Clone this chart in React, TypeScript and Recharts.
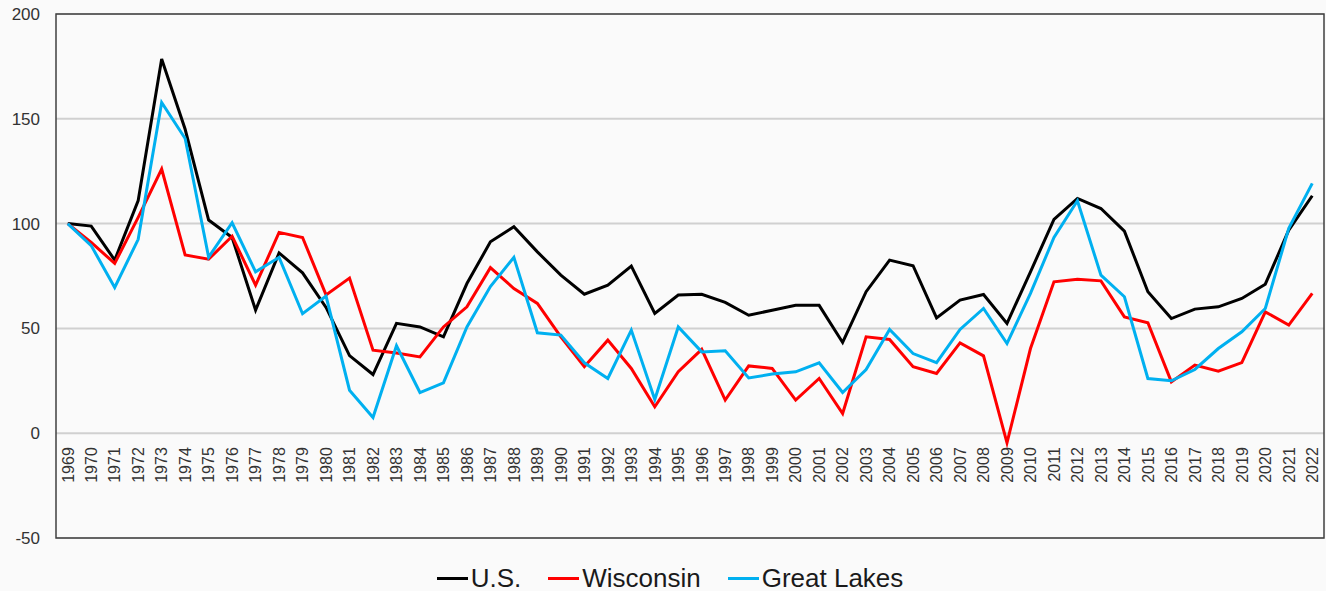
import React from "react";
import {
  LineChart,
  Line,
  XAxis,
  YAxis,
  CartesianGrid,
  ReferenceArea,
  Legend,
} from "recharts";

const years = [
  "1969","1970","1971","1972","1973","1974","1975","1976","1977","1978",
  "1979","1980","1981","1982","1983","1984","1985","1986","1987","1988",
  "1989","1990","1991","1992","1993","1994","1995","1996","1997","1998",
  "1999","2000","2001","2002","2003","2004","2005","2006","2007","2008",
  "2009","2010","2011","2012","2013","2014","2015","2016","2017","2018",
  "2019","2020","2021","2022",
];

const us = [
  100, 98.8, 82.6, 111, 178.5, 145, 101.7, 93.4, 58.7, 86,
  76.5, 60, 37, 28, 52.4, 50.7, 46, 71.4, 91.3, 98.5,
  86.5, 75.4, 66.3, 70.6, 79.7, 57.1, 65.9, 66.3, 62.4, 56.3,
  58.7, 61, 61, 43.3, 67.5, 82.6, 79.9, 55, 63.5, 66.2,
  52.4, 77, 102, 112, 107.2, 96.4, 67.5, 54.7, 59.2, 60.3,
  64.3, 71.1, 96.9, 113.3,
];

const wisconsin = [
  100, 91, 81, 103, 126, 85, 83, 94, 70.6, 95.8,
  93.4, 66, 74, 39.6, 38.3, 36.4, 50.7, 60.3, 79, 69,
  61.9, 46, 31.7, 44.4, 30.9, 12.6, 29.3, 40, 15.8, 32.1,
  30.9, 15.8, 26.1, 9.4, 46, 44.7, 31.7, 28.5, 43.1, 36.9,
  -4.6, 40.4, 72.2, 73.5, 72.7, 55.5, 52.7, 24.5, 32.5, 29.6,
  33.7, 57.9, 51.6, 66.7,
];

const greatLakes = [
  100, 89.5, 69.5, 92.5, 157.8, 140.6, 84, 100.4, 77, 83.9,
  57, 65.4, 20.5, 7.5, 41.7, 19.4, 24, 50.7, 70, 83.9,
  47.9, 46.8, 33.6, 26.1, 49.2, 16.1, 50.7, 38.8, 39.3, 26.4,
  28.2, 29.3, 33.6, 19.4, 30.4, 49.5, 38, 33.7, 49.5, 59.5,
  42.8, 66.7, 93.4, 110.9, 75.4, 65.1, 26.1, 25, 30.4, 40.4,
  48.4, 59.5, 97.7, 119.2,
];

const yTicks = [-50, 0, 50, 100, 150, 200];
const Y_MIN = -50;
const Y_MAX = 200;

const seriesInfo = [
  { key: "us", name: "U.S.", color: "#000000" },
  { key: "wisconsin", name: "Wisconsin", color: "#ff0000" },
  { key: "greatLakes", name: "Great Lakes", color: "#00b0f0" },
];

const data = years.map((year, i) => ({
  year,
  us: us[i],
  wisconsin: wisconsin[i],
  greatLakes: greatLakes[i],
}));

const WIDTH = 1326;
const HEIGHT = 591;
const MARGIN = { top: 14, right: 2, left: 0, bottom: 0 };
const X_AXIS_H = 27;
const LEGEND_H = 26;
const PLOT_H = HEIGHT - MARGIN.top - MARGIN.bottom - X_AXIS_H - LEGEND_H;
// distance from bottom of plot to the zero line
const ZERO_OFFSET = (PLOT_H * (0 - Y_MIN)) / (Y_MAX - Y_MIN);

const FONT = "'Liberation Sans', Arial, sans-serif";

const XTick = (props: any) => {
  const { x, y, payload } = props;
  const ty = y - ZERO_OFFSET + 14;
  return (
    <text
      transform={`translate(${x},${ty}) rotate(-90)`}
      textAnchor="end"
      dy="0.36em"
      fontSize={16}
      fontFamily={FONT}
      fill="#333333"
    >
      {payload.value}
    </text>
  );
};

const LegendContent = () => (
  <div
    style={{
      display: "flex",
      justifyContent: "center",
      alignItems: "center",
      height: LEGEND_H,
      paddingLeft: 16,
      fontFamily: FONT,
      fontSize: 26,
      color: "#1a1a1a",
      lineHeight: `${LEGEND_H}px`,
    }}
  >
    {seriesInfo.map((s, i) => (
      <div
        key={s.key}
        style={{
          display: "flex",
          alignItems: "center",
          marginLeft: i === 0 ? 0 : 27,
        }}
      >
        <span
          style={{
            display: "inline-block",
            width: 31,
            height: 3,
            background: s.color,
            marginRight: 3,
          }}
        />
        <span>{s.name}</span>
      </div>
    ))}
  </div>
);

export default function App() {
  return (
    <div
      style={{
        position: "absolute",
        left: 0,
        top: 0,
        width: WIDTH,
        height: HEIGHT,
        background: "#fafafa",
      }}
    >
      <LineChart width={WIDTH} height={HEIGHT} data={data} margin={MARGIN}>
        <CartesianGrid vertical={false} stroke="#d0d0d0" strokeWidth={2} />
        <XAxis
          dataKey="year"
          scale="band"
          interval={0}
          axisLine={false}
          tickLine={false}
          tickSize={0}
          tickMargin={0}
          height={X_AXIS_H}
          tick={<XTick />}
        />
        <YAxis
          domain={[Y_MIN, Y_MAX]}
          ticks={yTicks}
          width={56}
          axisLine={false}
          tickLine={false}
          tickSize={0}
          tickMargin={16}
          tick={{ fontSize: 17, fontFamily: FONT, fill: "#333333" }}
        />
        <ReferenceArea
          y1={Y_MIN}
          y2={Y_MAX}
          fill="none"
          fillOpacity={0}
          stroke="#404040"
          strokeWidth={1.5}
        />
        {seriesInfo.map((s) => (
          <Line
            key={s.key}
            type="linear"
            dataKey={s.key}
            name={s.name}
            stroke={s.color}
            strokeWidth={3}
            dot={false}
            activeDot={false}
            isAnimationActive={false}
          />
        ))}
        <Legend
          verticalAlign="bottom"
          height={LEGEND_H}
          content={<LegendContent />}
        />
      </LineChart>
    </div>
  );
}
